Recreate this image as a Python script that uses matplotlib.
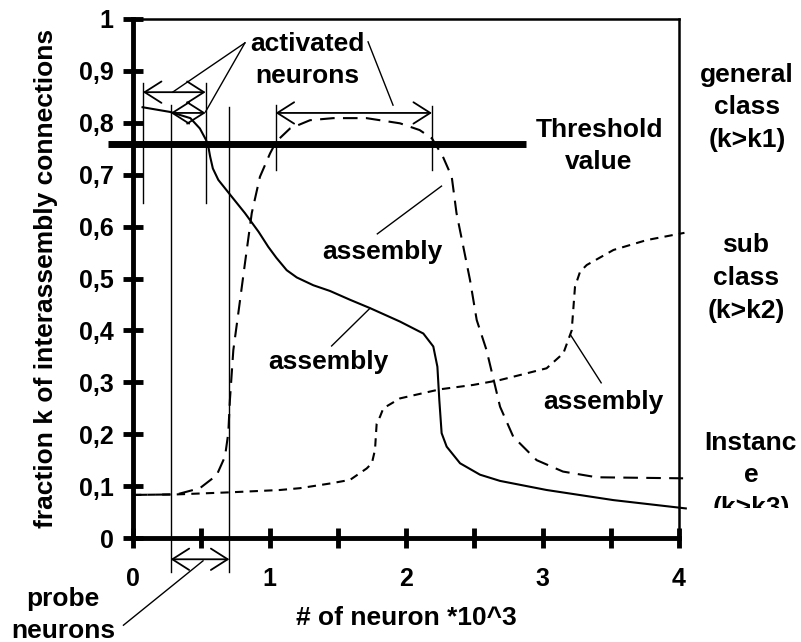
import matplotlib
matplotlib.use("Agg")
import matplotlib.pyplot as plt
from matplotlib.transforms import Bbox

plt.rcParams['font.family'] = ['Liberation Sans', 'DejaVu Sans']
plt.rcParams['font.weight'] = 'bold'
plt.rcParams['axes.labelweight'] = 'bold'

# solid curve (general class)
solid_x = [0.07, 0.27, 0.42, 0.49, 0.535, 0.552, 0.565, 0.585, 0.625, 0.71, 0.82, 0.92, 0.991,
           1.05, 1.126, 1.2, 1.321, 1.443, 1.59, 1.736, 1.956, 2.127, 2.2, 2.23, 2.244, 2.261,
           2.298, 2.396, 2.542, 2.689, 3.03, 3.52, 4.05]
solid_y = [0.830, 0.821, 0.809, 0.789, 0.767, 0.754, 0.735, 0.712, 0.690, 0.662, 0.626, 0.590,
           0.561, 0.540, 0.516, 0.502, 0.487, 0.476, 0.459, 0.443, 0.417, 0.394, 0.369, 0.330,
           0.266, 0.202, 0.176, 0.144, 0.122, 0.110, 0.0925, 0.073, 0.057]

# long dashed curve (sub class)
long_x = [0.0, 0.32, 0.49, 0.613, 0.674, 0.698, 0.71, 0.735, 0.775, 0.82, 0.87, 0.93, 1.004,
          1.05, 1.15, 1.297, 1.467, 1.71, 1.956, 2.1, 2.19, 2.27, 2.335, 2.37, 2.42, 2.469,
          2.518, 2.59, 2.66, 2.689, 2.786, 2.957, 3.15, 3.397, 4.03]
long_y = [0.083, 0.084, 0.096, 0.121, 0.157, 0.202, 0.266, 0.362, 0.44, 0.529, 0.626, 0.696,
          0.741, 0.764, 0.789, 0.805, 0.809, 0.809, 0.799, 0.786, 0.770, 0.735, 0.696, 0.626,
          0.561, 0.497, 0.42, 0.362, 0.285, 0.253, 0.195, 0.150, 0.128, 0.117, 0.115]

# short dashed curve (instance)
short_x = [0.0, 0.32, 0.71, 1.077, 1.223, 1.443, 1.59, 1.712, 1.75, 1.773, 1.78, 1.785, 1.81,
           1.834, 1.956, 2.249, 2.494, 2.689, 2.835, 3.03, 3.153, 3.214, 3.238, 3.275, 3.324,
           3.52, 3.763, 4.04]
short_y = [0.083, 0.084, 0.088, 0.0925, 0.096, 0.105, 0.112, 0.134, 0.144, 0.17, 0.2, 0.22,
           0.234, 0.25, 0.269, 0.2865, 0.295, 0.3044, 0.314, 0.327, 0.356, 0.400, 0.484, 0.513,
           0.526, 0.555, 0.574, 0.588]

threshold = 0.76
x_ticks = [0, 1, 2, 3, 4]
y_ticks = [0, 0.1, 0.2, 0.3, 0.4, 0.5, 0.6, 0.7, 0.8, 0.9, 1]
y_labels = ['0', '0,1', '0,2', '0,3', '0,4', '0,5', '0,6', '0,7', '0,8', '0,9', '1']

# guide lines: (x, y_bottom, y_top)
guides = [(0.073, 0.645, 0.877), (0.276, -0.066, 0.834), (0.532, 0.645, 0.877),
          (0.706, -0.066, 0.83), (1.045, 0.709, 0.834), (2.19, 0.709, 0.832)]
# double arrows: (x0, x1, y)
spans = [(0.073, 0.532, 0.859), (0.276, 0.532, 0.819), (1.045, 2.19, 0.819),
         (0.276, 0.706, -0.041)]
# leader lines
leaders = [((0.82, 0.954), (0.29, 0.859)), ((0.82, 0.954), (0.531, 0.821)),
           ((1.722, 0.956), (1.905, 0.834)), ((1.79, 0.586), (2.26, 0.678)),
           ((1.455, 0.37), (1.736, 0.4426)), ((3.43, 0.299), (3.206, 0.391)),
           ((-0.07, -0.168), (0.513, -0.044))]

fig = plt.figure(figsize=(8.01, 6.42), dpi=100)
ax = fig.add_axes([133 / 801, 104 / 642, 546 / 801, 519 / 642])

ax.plot(solid_x, solid_y, color='black', lw=1.5, clip_on=False)
ax.plot(long_x, long_y, color='black', lw=1.5, dashes=(7, 4), clip_on=False)
ax.plot(short_x, short_y, color='black', lw=1.5, dashes=(4, 3), clip_on=False)
ax.plot([-0.18, 2.88], [threshold, threshold], color='black', lw=5, clip_on=False,
        solid_capstyle='butt')

for gx, gy0, gy1 in guides:
    ax.plot([gx, gx], [gy0, gy1], color='black', lw=1.0, clip_on=False)
for x0, x1, yy in spans:
    ax.annotate('', xy=(x1, yy), xytext=(x0, yy), annotation_clip=False,
                arrowprops=dict(arrowstyle='<->,head_length=0.55,head_width=0.35',
                                mutation_scale=22, lw=1.3, color='black',
                                shrinkA=0, shrinkB=0))
for (ax0, ay0), (ax1, ay1) in leaders:
    ax.plot([ax0, ax1], [ay0, ay1], color='black', lw=1.0, clip_on=False)

fs = 19
ls = 1.45
ax.text(1.275, 0.921, 'activated\nneurons', ha='center', va='center', fontsize=fs, linespacing=ls)
ax.text(1.824, 0.551, 'assembly', ha='center', va='center', fontsize=fs)
ax.text(1.429, 0.339, 'assembly', ha='center', va='center', fontsize=fs)
ax.text(3.443, 0.262, 'assembly', ha='center', va='center', fontsize=fs)
ax.text(3.414, 0.755, 'Threshold\nvalue', ha='center', va='center', fontsize=fs, linespacing=ls)
ax.text(-0.513, -0.148, 'probe\nneurons', ha='center', va='center', fontsize=fs,
        linespacing=ls, clip_on=False)
ax.text(4.498, 0.830, 'general\nclass\n(k>k1)', ha='center', va='center', fontsize=fs,
        linespacing=ls, clip_on=False)
ax.text(4.49, 0.501, 'sub\nclass\n(k>k2)', ha='center', va='center', fontsize=fs,
        linespacing=ls, clip_on=False)
inst = ax.text(4.527, 0.121, 'Instanc\ne\n(k>k3)', ha='center', va='center', fontsize=fs,
               linespacing=ls)
inst.set_clip_path(None)
inst.set_clip_box(Bbox([[0, 134], [801, 642]]))
inst.set_clip_on(True)

ax.set_xlim(0, 4)
ax.set_ylim(0, 1)
ax.set_xticks(x_ticks)
ax.set_xticklabels([str(t) for t in x_ticks])
ax.set_xticks([0.5, 1.5, 2.5, 3.5], minor=True)
ax.set_yticks(y_ticks)
ax.set_yticklabels(y_labels)
ax.tick_params(which='both', direction='inout', length=14, width=3.5, labelsize=18)
ax.tick_params(axis='y', pad=7)
ax.tick_params(axis='x', which='both', pad=14)

for side in ['left', 'bottom']:
    ax.spines[side].set_linewidth(3.5)
for side in ['top', 'right']:
    ax.spines[side].set_linewidth(1.8)

ax.set_xlabel('# of neuron *10^3', fontsize=19, fontweight='bold', va='center')
ax.xaxis.set_label_coords(0.5, -0.154)
ax.set_ylabel('fraction k of interassembly connections', fontsize=19, fontweight='bold',
              va='center')
ax.yaxis.set_label_coords(-0.159, 0.5)

fig.savefig('out.png', dpi=100)
